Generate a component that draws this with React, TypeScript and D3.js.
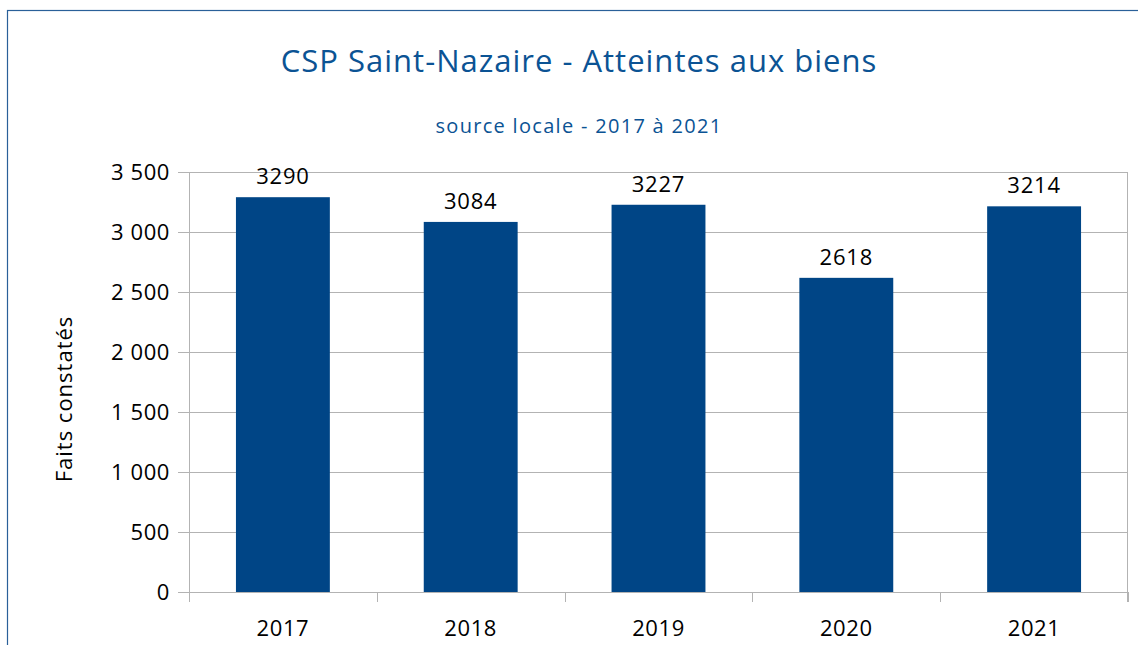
import React, { useEffect, useRef } from 'react';
import * as d3 from 'd3';

const years = ['2017', '2018', '2019', '2020', '2021'];
const faits = [3290, 3084, 3227, 2618, 3214];
const yTicks = [0, 500, 1000, 1500, 2000, 2500, 3000, 3500];

const W = 1138;
const H = 645;

const App = () => {
  const svgRef = useRef<SVGSVGElement>(null);

  useEffect(() => {
    const svg = d3.select(svgRef.current);
    svg.selectAll('*').remove();

    const margin = { top: 172, right: 10, bottom: 53, left: 189 };
    const width = 1128 - margin.left;
    const height = 592 - margin.top;
    const font = '"Open Sans", "Noto Sans", sans-serif';

    // frame (right and bottom sides fall outside the picture)
    svg.append('rect')
      .attr('x', 7.5).attr('y', 10.5)
      .attr('width', W + 20).attr('height', H + 20)
      .attr('fill', 'none').attr('stroke', '#2a6099').attr('stroke-width', 1.2);

    svg.append('text')
      .attr('x', 579).attr('y', 72)
      .attr('text-anchor', 'middle')
      .style('font-family', font).style('font-size', '31px').style('letter-spacing', '1px')
      .attr('fill', '#0b5394')
      .text('CSP Saint-Nazaire - Atteintes aux biens');

    svg.append('text')
      .attr('x', 579).attr('y', 133)
      .attr('text-anchor', 'middle')
      .style('font-family', font).style('font-size', '20px').style('letter-spacing', '1.3px')
      .attr('fill', '#0b5394')
      .text('source locale - 2017 à 2021');

    const x = d3.scaleBand().domain(years).range([0, width]).paddingInner(0.5).paddingOuter(0.25);
    const y = d3.scaleLinear().domain([0, 3500]).range([height, 0]);

    const g = svg.append('g').attr('transform', `translate(${margin.left},${margin.top})`);

    // gridlines with outer ticks on the left
    g.append('g').selectAll('line').data(yTicks).join('line')
      .attr('x1', -11).attr('x2', width)
      .attr('y1', d => Math.round(y(d)) + 0.5).attr('y2', d => Math.round(y(d)) + 0.5)
      .attr('stroke', '#b3b3b3').attr('stroke-width', 1);

    // vertical axis lines and category ticks
    const step = x.step();
    const bounds = d3.range(years.length + 1).map(i => i * step);
    g.append('line')
      .attr('x1', 0.5).attr('x2', 0.5).attr('y1', 0).attr('y2', height + 10)
      .attr('stroke', '#b3b3b3');
    g.append('line')
      .attr('x1', width - 0.5).attr('x2', width - 0.5).attr('y1', 0).attr('y2', height + 10)
      .attr('stroke', '#b3b3b3');
    g.append('g').selectAll('line').data(bounds).join('line')
      .attr('x1', d => Math.round(d) + 0.5).attr('x2', d => Math.round(d) + 0.5)
      .attr('y1', height).attr('y2', height + 10)
      .attr('stroke', '#b3b3b3');

    // y tick labels
    g.append('g').selectAll('text').data(yTicks).join('text')
      .attr('x', -19).attr('y', d => y(d))
      .attr('dy', '0.35em')
      .attr('text-anchor', 'end')
      .style('font-family', font).style('font-size', '22px').style('letter-spacing', '0.6px')
      .attr('fill', '#000')
      .text(d => d3.format(',')(d).replace(',', ' '));

    // bars
    g.append('g').selectAll('rect').data(faits).join('rect')
      .attr('x', (d, i) => x(years[i])!)
      .attr('y', d => y(d))
      .attr('width', x.bandwidth())
      .attr('height', d => height - y(d))
      .attr('fill', '#004586');

    // value labels
    g.append('g').selectAll('text').data(faits).join('text')
      .attr('x', (d, i) => x(years[i])! + x.bandwidth() / 2)
      .attr('y', d => y(d) - 13)
      .attr('text-anchor', 'middle')
      .style('font-family', font).style('font-size', '22px').style('letter-spacing', '0.8px')
      .attr('fill', '#000')
      .text(d => d);

    // year labels
    g.append('g').selectAll('text').data(years).join('text')
      .attr('x', d => x(d)! + x.bandwidth() / 2)
      .attr('y', height + 44)
      .attr('text-anchor', 'middle')
      .style('font-family', font).style('font-size', '22px').style('letter-spacing', '0.6px')
      .attr('fill', '#000')
      .text(d => d);

    // axis title
    svg.append('text')
      .attr('transform', 'translate(72,399) rotate(-90)')
      .attr('text-anchor', 'middle')
      .style('font-family', font).style('font-size', '22px').style('letter-spacing', '1px')
      .attr('fill', '#000')
      .text('Faits constatés');
  }, []);

  return (
    <svg ref={svgRef} width={W} height={H}
      style={{ position: 'absolute', left: 0, top: 0, background: '#fff' }} />
  );
};

export default App;
